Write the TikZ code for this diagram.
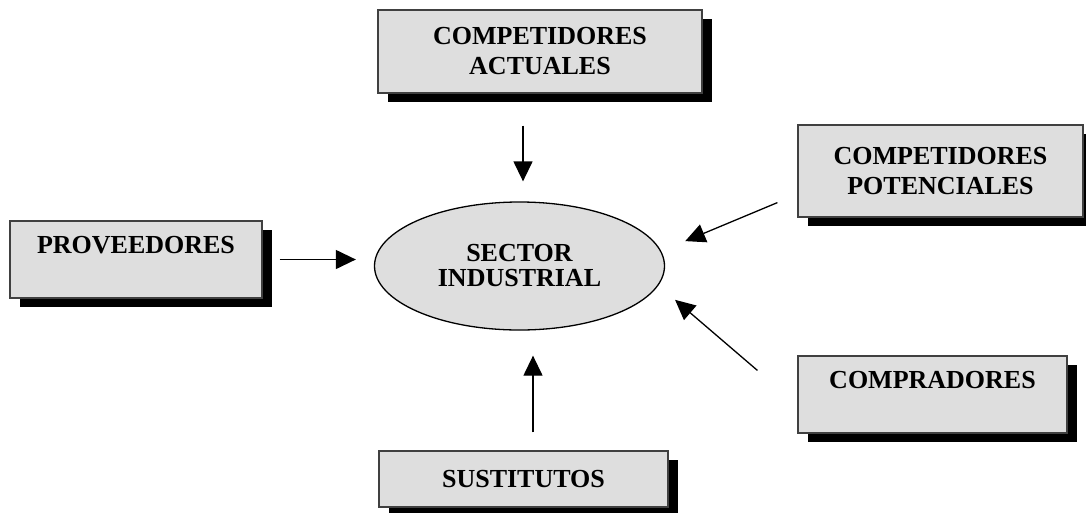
\documentclass[tikz,border=0pt]{standalone}
\usepackage{fontspec}
\setmainfont{Liberation Serif}
\usetikzlibrary{shapes.geometric,shadows,arrows.meta}

\begin{document}
\begin{tikzpicture}[x=1pt,y=-1pt,font=\fontsize{26}{30}\selectfont\bfseries,
  box/.style={draw=black!75,line width=1.2pt,fill=black!13,inner sep=0pt,align=center,
    drop shadow={shadow xshift=10pt,shadow yshift=-9pt,fill=black,opacity=1}},
  arr/.style={line width=1.3pt,-{Triangle[length=20pt,width=19pt]}}]

\clip (0,0) rectangle (1086,512);

\node[ellipse,draw,line width=1.3pt,fill=black!13,minimum width=290pt,minimum height=128pt,
  align=center,font=\fontsize{26}{25}\selectfont\bfseries] (sector) at (519.5,266) {SECTOR\\INDUSTRIAL};

\node[box,minimum width=324pt,minimum height=83pt] (act) at (540,51.5) {COMPETIDORES\\ACTUALES};
\node[box,minimum width=252pt,minimum height=77pt] (prov) at (136,259.5) {PROVEEDORES\\\mbox{}};
\node[box,minimum width=285pt,minimum height=92pt] (pot) at (940.5,171) {COMPETIDORES\\POTENCIALES};
\node[box,minimum width=269pt,minimum height=77pt] (comp) at (932.5,394.5) {COMPRADORES\\\mbox{}};
\node[box,minimum width=289pt,minimum height=56pt] (sust) at (523.5,479) {SUSTITUTOS};

\draw[arr,shorten <=32pt,shorten >=20pt] ([xshift=-17pt]act.south) -- ([xshift=3.5pt]sector.north);
\draw[arr,shorten <=17pt,shorten >=18pt] (prov.east) -- (prov.east -| sector.west);
\draw[arr,shorten >=26pt] ([xshift=-20pt,yshift=15pt]pot.south west) -- (sector.6);
\draw[arr,shorten >=22pt] ([xshift=-40pt,yshift=-15pt]comp.north west) -- (sector.-8);
\draw[arr,shorten <=18pt,shorten >=25pt] ([xshift=9.5pt]sust.north) -- ([xshift=13.5pt]sector.south);

\end{tikzpicture}
\end{document}
